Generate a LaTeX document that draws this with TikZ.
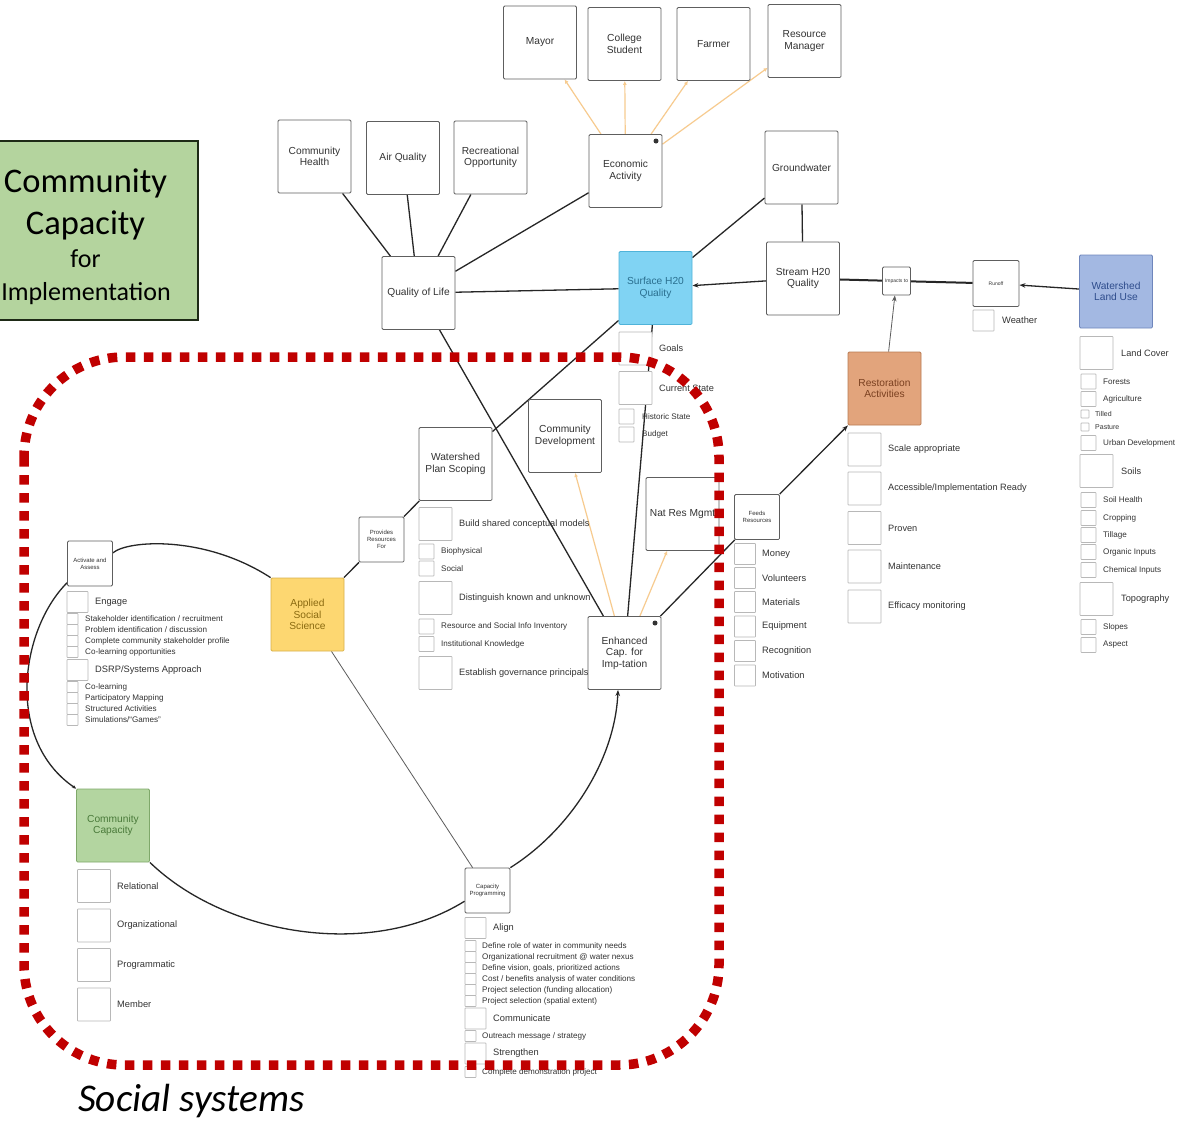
\documentclass[tikz,border=0pt]{standalone}
\usepackage{fontspec}
\setmainfont{Liberation Sans}
\newfontfamily\calibri{Carlito}
\usetikzlibrary{arrows.meta}

\definecolor{boxline}{HTML}{5E5E5E}
\definecolor{chkline}{HTML}{B8B8B8}
\definecolor{txt}{HTML}{333333}
\definecolor{wirec}{HTML}{262626}
\definecolor{tanc}{HTML}{F7CB8F}
\definecolor{swfill}{HTML}{80D3F3}
\definecolor{swline}{HTML}{4FB3D9}
\definecolor{swtext}{HTML}{2A6F8F}
\definecolor{wlfill}{HTML}{A3B8E2}
\definecolor{wlline}{HTML}{6F86BC}
\definecolor{wltext}{HTML}{2E4C8C}
\definecolor{rafill}{HTML}{E2A47C}
\definecolor{raline}{HTML}{B87A52}
\definecolor{ratext}{HTML}{7A4020}
\definecolor{asfill}{HTML}{FDD771}
\definecolor{asline}{HTML}{D9B24A}
\definecolor{astext}{HTML}{8A6A10}
\definecolor{ccfill}{HTML}{B3D5A0}
\definecolor{ccline}{HTML}{7FA86A}
\definecolor{cctext}{HTML}{4A7A3A}
\definecolor{ttlfill}{HTML}{B4D49E}
\definecolor{ttlline}{HTML}{1E2A16}
\definecolor{framered}{HTML}{C00000}

\newcommand\fsMain{\fontsize{10.2}{11.6}\selectfont}
\newcommand\fsListB{\fontsize{9.2}{11}\selectfont}
\newcommand\fsListC{\fontsize{9.2}{11}\selectfont}
\newcommand\fsList{\fontsize{9.3}{11}\selectfont}
\newcommand\fsGoal{\fontsize{9.2}{11}\selectfont}
\newcommand\fsSub{\fontsize{8.1}{9}\selectfont}
\newcommand\fsMini{\fontsize{7}{8}\selectfont}
\newcommand\fsTiny{\fontsize{6}{6.8}\selectfont}
\newcommand\fsMicro{\fontsize{5}{6}\selectfont}

% a checkbox with its label: name, box x, y, box size, label x, font, text
\newcommand\rowitem[7]{%
  \node[chk, minimum size=#4pt] (#1) at (#2,#3) {};
  \node[lbl, font=#6] (#1-t) at (#5,#3) {#7};}

\pgfdeclarelayer{paper}
\pgfdeclarelayer{links}
\pgfsetlayers{paper,links,main}

\tikzset{
  card/.style={draw=boxline, fill=white, line width=0.8pt, rounded corners=1.2pt,
    inner sep=1pt, align=center, text=txt, font=\fsMain,
    minimum width=73pt, minimum height=73pt},
  hub/.style={card, minimum width=45pt, minimum height=45pt, font=\fsTiny, inner sep=0pt},
  chk/.style={draw=chkline, fill=white, line width=0.6pt, inner sep=0pt, rounded corners=0.6pt},
  lbl/.style={anchor=west, inner sep=0pt, text=txt},
  link/.style={draw=wirec, line width=1.3pt},
  faint/.style={draw=wirec!75, line width=0.8pt},
  tanlink/.style={draw=tanc, line width=1.2pt, -{Latex[length=4pt,width=4pt]}},
  arrowed/.style={-{Stealth[length=6pt,width=4.5pt]}},
  eye/.style={circle, fill=black!80, inner sep=0pt, minimum size=5pt}
}

\begin{document}
\begin{tikzpicture}[x=1pt,y=-1pt]
\useasboundingbox (0,0) rectangle (1190,1120);
\begin{pgfonlayer}{paper}
  \fill[white] (0,0) rectangle (1190,1120);
\end{pgfonlayer}

% ---- title panel
\node[draw=ttlline, line width=2.5pt, fill=ttlfill, minimum width=210pt, minimum height=179pt, inner sep=0pt] (title) at (93,230.5) {};
\node[anchor=base, inner sep=0pt, font=\calibri\fontsize{34.5}{40}\selectfont] (titleA) at (85.5,192) {Community};
\node[anchor=base, inner sep=0pt, font=\calibri\fontsize{34.5}{40}\selectfont] (titleB) at (85.5,234) {Capacity};
\node[anchor=base, inner sep=0pt, font=\calibri\fontsize{26}{30}\selectfont] (titleC) at (85.5,267) {for};
\node[anchor=base, inner sep=0pt, font=\calibri\fontsize{26}{30}\selectfont] (titleD) at (86,300) {Implementation};

% ---- stakeholders and quality of life
\node[card] (mayor) at (540,42.5) {Mayor};
\node[card] (student) at (624.5,44) {College\\Student};
\node[card] (farmer) at (713.5,44) {Farmer};
\node[card] (manager) at (804.5,41) {Resource\\Manager};
\node[card] (econ) at (625.5,171) {Economic\\Activity};
\node[eye] (econeye) at (656,141) {};
\node[card] (health) at (314.5,156.5) {Community\\Health};
\node[card] (air) at (403,158) {Air Quality};
\node[card] (recr) at (490.5,157.5) {Recreational\\Opportunity};
\node[card] (ground) at (801.5,167.5) {Groundwater};
\node[card] (qol) at (418.5,293) {Quality of Life};

% ---- water chain
\node[card, fill=swfill, draw=swline, text=swtext] (surface) at (655.5,288) {Surface H20\\Quality};
\node[card] (stream) at (803,278.5) {Stream H20\\Quality};
\node[hub, minimum size=28pt, font=\fsMicro] (impacts) at (896.5,281) {Impacts to};
\node[hub, minimum size=46pt, font=\fsMicro] (runoff) at (996,283.5) {Runoff};
\node[card, fill=wlfill, draw=wlline, text=wltext] (landuse) at (1116,291.5) {Watershed\\Land Use};
\node[card, fill=rafill, draw=raline, text=ratext] (restor) at (884.5,388.5) {Restoration\\Activities};

\rowitem{weather}{983.5}{320.5}{21}{1002}{\fsList}{Weather}

\rowitem{goals}{635.5}{348.5}{33}{659}{\fsGoal}{Goals}
\rowitem{current}{635.5}{388}{33}{659}{\fsGoal}{Current State}
\rowitem{historic}{626.5}{416.5}{15}{642}{\fsSub}{Historic State}
\rowitem{budget}{626.5}{434.5}{15}{642}{\fsSub}{Budget}

\rowitem{scale}{864.5}{449.5}{33}{888}{\fsListB}{Scale appropriate}
\rowitem{ready}{864.5}{488.5}{33}{888}{\fsListB}{Accessible/Implementation Ready}
\rowitem{proven}{864.5}{528}{33}{888}{\fsListB}{Proven}
\rowitem{maint}{864.5}{566.5}{33}{888}{\fsListB}{Maintenance}
\rowitem{efficacy}{864.5}{606.5}{33}{888}{\fsListB}{Efficacy monitoring}

\rowitem{cover}{1096.5}{353}{33}{1121}{\fsGoal}{Land Cover}
\rowitem{forests}{1088.5}{381.5}{15}{1103}{\fsSub}{Forests}
\rowitem{agri}{1088.5}{399}{15}{1103}{\fsSub}{Agriculture}
\rowitem{tilled}{1085}{414}{8}{1095}{\fsMini}{Tilled}
\rowitem{pasture}{1085}{427}{8}{1095}{\fsMini}{Pasture}
\rowitem{urban}{1088.5}{443}{15}{1103}{\fsSub}{Urban Development}
\rowitem{soils}{1096.5}{471}{33}{1121}{\fsGoal}{Soils}
\rowitem{soilhealth}{1088.5}{500}{15}{1103}{\fsSub}{Soil Health}
\rowitem{cropping}{1088.5}{518}{15}{1103}{\fsSub}{Cropping}
\rowitem{tillage}{1088.5}{535}{15}{1103}{\fsSub}{Tillage}
\rowitem{organic}{1088.5}{552}{15}{1103}{\fsSub}{Organic Inputs}
\rowitem{chemical}{1088.5}{570}{15}{1103}{\fsSub}{Chemical Inputs}
\rowitem{topo}{1096.5}{599}{33}{1121}{\fsGoal}{Topography}
\rowitem{slopes}{1088.5}{627}{15}{1103}{\fsSub}{Slopes}
\rowitem{aspect}{1088.5}{645}{15}{1103}{\fsSub}{Aspect}

% ---- planning and resources
\node[card] (scoping) at (455.5,464) {Watershed\\Plan Scoping};
\node[card] (commdev) at (565,436) {Community\\Development};
\node[card] (natres) at (682.5,514) {Nat Res Mgmt};
\node[card] (enhanced) at (624.5,653) {Enhanced\\Cap. for\\Imp-tation};
\node[eye] (enheye) at (655,623) {};
\node[hub] (provides) at (381.5,539.5) {Provides\\Resources\\For};
\node[hub] (feeds) at (757,517) {Feeds\\Resources};

\rowitem{money}{745}{554}{21}{762}{\fsList}{Money}
\rowitem{volunteers}{745}{578}{21}{762}{\fsList}{Volunteers}
\rowitem{materials}{745}{602}{21}{762}{\fsList}{Materials}
\rowitem{equipment}{745}{626.5}{21}{762}{\fsList}{Equipment}
\rowitem{recognition}{745}{651}{21}{762}{\fsList}{Recognition}
\rowitem{motivation}{745}{675.5}{21}{762}{\fsList}{Motivation}

\rowitem{models}{435.5}{524}{33}{459}{\fsListC}{Build shared conceptual models}
\rowitem{biophys}{426.5}{551.5}{15}{441}{\fsSub}{Biophysical}
\rowitem{socialitem}{426.5}{568.5}{15}{441}{\fsSub}{Social}
\rowitem{known}{435.5}{598}{33}{459}{\fsListC}{Distinguish known and unknown}
\rowitem{inventory}{426.5}{626.5}{15}{441}{\fsSub}{Resource and Social Info Inventory}
\rowitem{institution}{426.5}{644}{15}{441}{\fsSub}{Institutional Knowledge}
\rowitem{governance}{435.5}{673}{33}{459}{\fsListC}{Establish governance principals}

% ---- capacity cycle
\node[card, fill=asfill, draw=asline, text=astext] (social) at (307.5,614.5) {Applied\\Social\\Science};
\node[hub] (activate) at (90,563.5) {Activate and\\Assess};
\node[card, fill=ccfill, draw=ccline, text=cctext] (capacity) at (113,825.5) {Community\\Capacity};
\node[hub] (program) at (487.5,890.5) {Capacity\\Programming};

\rowitem{engage}{77.5}{602}{21}{95}{\fsList}{Engage}
\rowitem{eA}{72.5}{619}{11}{85}{\fsSub}{Stakeholder identification / recruitment}
\rowitem{eB}{72.5}{630}{11}{85}{\fsSub}{Problem identification / discussion}
\rowitem{eC}{72.5}{641}{11}{85}{\fsSub}{Complete community stakeholder profile}
\rowitem{eD}{72.5}{652}{11}{85}{\fsSub}{Co-learning opportunities}
\rowitem{dsrp}{77.5}{670}{21}{95}{\fsList}{DSRP/Systems Approach}
\rowitem{dA}{72.5}{687}{11}{85}{\fsSub}{Co-learning}
\rowitem{dB}{72.5}{698}{11}{85}{\fsSub}{Participatory Mapping}
\rowitem{dC}{72.5}{709}{11}{85}{\fsSub}{Structured Activities}
\rowitem{dD}{72.5}{720}{11}{85}{\fsSub}{Simulations/“Games”}

\rowitem{relational}{94}{886}{33}{117}{\fsList}{Relational}
\rowitem{organizational}{94}{925.5}{33}{117}{\fsList}{Organizational}
\rowitem{programmatic}{94}{965}{33}{117}{\fsList}{Programmatic}
\rowitem{member}{94}{1004.5}{33}{117}{\fsList}{Member}

\rowitem{align}{475.5}{928}{21}{493}{\fsList}{Align}
\rowitem{aA}{470.5}{946}{11}{482}{\fsSub}{Define role of water in community needs}
\rowitem{aB}{470.5}{957}{11}{482}{\fsSub}{Organizational recruitment @ water nexus}
\rowitem{aC}{470.5}{968}{11}{482}{\fsSub}{Define vision, goals, prioritized actions}
\rowitem{aD}{470.5}{979}{11}{482}{\fsSub}{Cost / benefits analysis of water conditions}
\rowitem{aE}{470.5}{990}{11}{482}{\fsSub}{Project selection (funding allocation)}
\rowitem{aF}{470.5}{1001}{11}{482}{\fsSub}{Project selection (spatial extent)}
\rowitem{communicate}{475.5}{1018.5}{21}{493}{\fsList}{Communicate}
\rowitem{cA}{470.5}{1036}{11}{482}{\fsSub}{Outreach message / strategy}
\rowitem{strengthen}{475.5}{1053.5}{21}{493}{\fsList}{Strengthen}
\rowitem{sA}{470.5}{1072}{11}{482}{\fsSub}{Complete demonstration project}

% ---- connectors, behind the boxes
\begin{pgfonlayer}{links}
  \draw[link] (health) -- (qol);
  \draw[link] (air) -- (qol);
  \draw[link] (recr) -- (qol);
  \draw[link] (econ) -- (qol);
  \draw[link] (qol) -- (surface);
  \draw[link] (qol) -- (enhanced);
  \draw[link] (surface) -- (scoping);
  \draw[link] (surface) -- (enhanced);
  \draw[link] (ground) -- (surface);
  \draw[link] (ground) -- (stream);
  \draw[link, arrowed] (stream) -- (surface);
  \draw[link, line width=2pt] (stream) -- (impacts);
  \draw[link, line width=2pt] (impacts) -- (runoff);
  \draw[link, arrowed] (landuse) -- (runoff);
  \draw[faint, arrowed] (restor) -- (impacts);
  \draw[link, arrowed] (feeds) -- (restor);
  \draw[link] (enhanced) -- (feeds);
  \draw[tanlink] (econ) -- (mayor);
  \draw[tanlink] (econ) -- (student);
  \draw[tanlink] (econ) -- (farmer);
  \draw[tanlink] (econ) -- (manager);
  \draw[tanlink] (enhanced) -- (commdev);
  \draw[tanlink] (enhanced) -- (natres);
  \draw[link] (social) -- (provides);
  \draw[link] (provides) -- (scoping);
  \draw[faint] (social) -- (program);
  \draw[link] (activate.25) .. controls (128,540) and (205,535) .. (social.north west);
  \draw[link, -{Stealth[length=4pt,width=3.5pt]}] (activate.220) .. controls (20,630) and (5,740) .. (capacity.north west);
  \draw[link] (capacity.south east) .. controls (225,935) and (370,960) .. (program.205);
  \draw[link, arrowed] (program.north east) .. controls (570,830) and (615,760) .. (enhanced.-100);
\end{pgfonlayer}

% ---- social systems boundary
\draw[framered, line width=9.5pt, dash pattern=on 9.5pt off 8.5pt, rounded corners=100pt]
  (24,357) rectangle (719,1065);
\node[anchor=base west, inner sep=0pt, font=\calibri\itshape\fontsize{39.3}{45}\selectfont] (caption) at (78,1111) {Social systems};
\end{tikzpicture}
\end{document}
